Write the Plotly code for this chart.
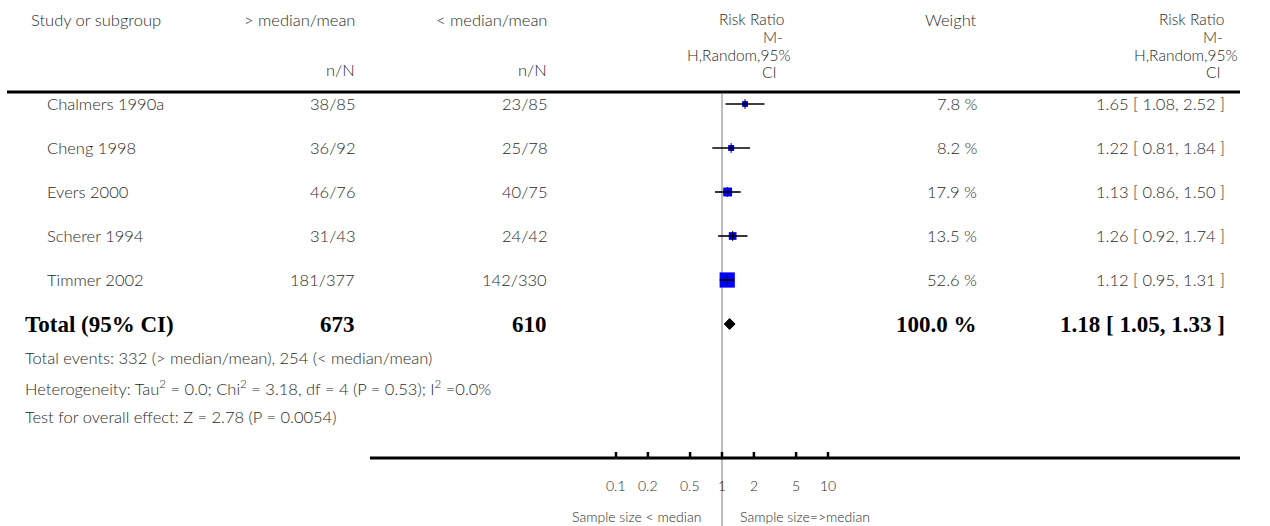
import math
import plotly.graph_objects as go

# ---------------- data ----------------
studies = ["Chalmers 1990a", "Cheng 1998", "Evers 2000", "Scherer 1994", "Timmer 2002"]
exp_nN = ["38/85", "36/92", "46/76", "31/43", "181/377"]
ctl_nN = ["23/85", "25/78", "40/75", "24/42", "142/330"]
weights = [7.8, 8.2, 17.9, 13.5, 52.6]
rr = [1.65, 1.22, 1.13, 1.26, 1.12]
rr_lo = [1.08, 0.81, 0.86, 0.92, 0.95]
rr_hi = [2.52, 1.84, 1.50, 1.74, 1.31]

total_exp = "673"
total_ctl = "610"
total_weight = 100.0
total_rr, total_lo, total_hi = 1.18, 1.05, 1.33

footer_lines = [
    "Total events: 332 (> median/mean), 254 (< median/mean)",
    "Heterogeneity: Tau<sup>2</sup> = 0.0; Chi<sup>2</sup> = 3.18, df = 4 (P = 0.53); I<sup>2</sup> =0.0%",
    "Test for overall effect: Z = 2.78 (P = 0.0054)",
]
tick_vals = [0.1, 0.2, 0.5, 1, 2, 5, 10]
tick_text = ["0.1", "0.2", "0.5", "1", "2", "5", "10"]
left_label = "Sample size < median"
right_label = "Sample size=>median"

# ---------------- layout geometry (pixels) ----------------
W, H = 1270, 526
X1_PX = 722.0      # pixel of RR = 1
DECADE_PX = 106.0  # pixels per decade
xr = [(0 - X1_PX) / DECADE_PX, (W - X1_PX) / DECADE_PX]

row_y = [104, 148, 192, 236, 280]
total_y = 324
footer_y = [358, 388, 417]
axis_y = 458

FONT = "Lato"
TXT = "#2a2a2a"
FS = 16.5
HFS = 15.5
SERIF = "Liberation Serif"
BFS = 23
LIGHT = 300


def px(x):
    return x / W


def lg(px_pos):
    # pixel position -> log10 axis coordinate
    return (px_pos - X1_PX) / DECADE_PX


fig = go.Figure()

# study boxes
fig.add_trace(go.Scatter(
    x=rr, y=row_y, mode="markers",
    marker=dict(symbol="square", color="#0000ff", opacity=1,
                size=[2.1 * w ** 0.5 for w in weights], line=dict(width=0)),
    hoverinfo="skip", showlegend=False))

# CI lines
cx, cy = [], []
for lo_, hi_, y in zip(rr_lo, rr_hi, row_y):
    cx += [lo_, hi_, None]
    cy += [y, y, None]
fig.add_trace(go.Scatter(x=cx, y=cy, mode="lines", line=dict(color="black", width=1.6),
                         hoverinfo="skip", showlegend=False))
# estimate ticks
fig.add_trace(go.Scatter(
    x=rr, y=row_y, mode="markers",
    marker=dict(symbol="line-ns", size=7, opacity=1, line=dict(color="black", width=1)),
    hoverinfo="skip", showlegend=False))

# total diamond
fig.add_trace(go.Scatter(
    x=[total_lo, total_rr, total_hi, total_rr, total_lo],
    y=[total_y, total_y - 5.5, total_y, total_y + 5.5, total_y],
    mode="lines", fill="toself", fillcolor="black", line=dict(color="black", width=1),
    hoverinfo="skip", showlegend=False))

# axis ticks
tx, ty = [], []
for v in tick_vals:
    tx += [v, v, None]
    ty += [axis_y, axis_y - 6, None]
fig.add_trace(go.Scatter(x=tx, y=ty, mode="lines", line=dict(color="black", width=2.5),
                         hoverinfo="skip", showlegend=False))

shapes = [
    dict(type="line", xref="x", yref="y", x0=1, x1=1, y0=94, y1=H,
         line=dict(color="#bdbdbd", width=2), layer="below"),
    dict(type="line", xref="paper", yref="y", x0=px(7), x1=px(1240), y0=92, y1=92,
         line=dict(color="black", width=3)),
    dict(type="line", xref="paper", yref="y", x0=px(370), x1=px(1240), y0=axis_y, y1=axis_y,
         line=dict(color="black", width=3)),
]

ann = []


def txt(x, y, s, anchor="left", size=FS, family=FONT, color=TXT, weight=LIGHT):
    ann.append(dict(x=px(x), y=y, xref="paper", yref="y", text=s,
                    showarrow=False, xanchor=anchor, yanchor="middle",
                    font=dict(size=size, family=family, color=color, weight=weight)))


# headers
txt(29, 20, "Study or subgroup")
txt(357, 20, "> median/mean", "right")
txt(357, 70, "n/N", "right")
txt(549, 20, "< median/mean", "right")
txt(549, 70, "n/N", "right")
for s, y, xr_ in [("Risk Ratio", 19, 786), ("M-", 37, 785), ("H,Random,95%", 55, 793), ("CI", 72, 779)]:
    txt(xr_, y, s, "right", size=HFS)
txt(979, 20, "Weight", "right")
for s, y, xr_ in [("Risk Ratio", 19, 1226), ("M-", 37, 1225), ("H,Random,95%", 55, 1240), ("CI", 72, 1223)]:
    txt(xr_, y, s, "right", size=HFS)

# rows
for i, y in enumerate(row_y):
    txt(45, y, studies[i])
    txt(357, y, exp_nN[i], "right")
    txt(549, y, ctl_nN[i], "right")
    txt(979, y, f"{weights[i]:.1f} %", "right")
    txt(1227, y, f"{rr[i]:.2f} [ {rr_lo[i]:.2f}, {rr_hi[i]:.2f} ]", "right")

# total row
bold = dict(size=BFS, family=SERIF, color="black", weight="bold")
txt(23, total_y, "Total (95% CI)", **bold)
txt(357, total_y, total_exp, "right", **bold)
txt(549, total_y, total_ctl, "right", **bold)
txt(979, total_y, f"{total_weight:.1f} %", "right", **bold)
txt(1227, total_y, f"{total_rr:.2f} [ {total_lo:.2f}, {total_hi:.2f} ]", "right", **bold)

# footer
for s, y in zip(footer_lines, footer_y):
    txt(23, y, s)

# tick labels (log axis: annotation x is log10 of the value)
for v, s in zip(tick_vals, tick_text):
    ann.append(dict(x=math.log10(v), y=485, xref="x", yref="y", text=s, showarrow=False,
                    xanchor="center", yanchor="middle",
                    font=dict(size=14, family=FONT, color=TXT, weight=LIGHT)))
ann.append(dict(x=lg(703), y=516, xref="x", yref="y", text=left_label, showarrow=False,
                xanchor="right", yanchor="middle",
                font=dict(size=14, family=FONT, color=TXT, weight=LIGHT)))
ann.append(dict(x=lg(738), y=516, xref="x", yref="y", text=right_label, showarrow=False,
                xanchor="left", yanchor="middle",
                font=dict(size=14, family=FONT, color=TXT, weight=LIGHT)))

fig.update_layout(
    width=W, height=H, autosize=False,
    margin=dict(l=0, r=0, t=0, b=0, pad=0),
    paper_bgcolor="white", plot_bgcolor="white",
    xaxis=dict(type="log", range=xr, visible=False, domain=[0, 1], fixedrange=True),
    yaxis=dict(range=[H, 0], visible=False, domain=[0, 1], fixedrange=True),
    shapes=shapes, annotations=ann, showlegend=False,
)

fig.write_html("out.html", config={"displayModeBar": False},
               post_script="document.body.style.margin='0';document.body.style.overflow='hidden';")
